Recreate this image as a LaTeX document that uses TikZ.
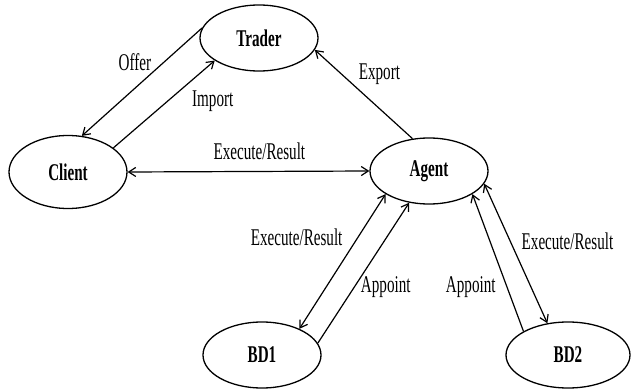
\documentclass[tikz,border=0pt]{standalone}
\usepackage{fontspec}
\setmainfont{Liberation Serif}[FakeStretch=0.63]
\usetikzlibrary{shapes.geometric,arrows.meta,positioning}

\begin{document}
\begin{tikzpicture}[x=1pt, y=-1pt, node distance=191pt, >={Straight Barb[length=7pt,width=9pt]}]
    \tikzstyle{party} = [ellipse, draw, line width=1.3pt, minimum width=118pt, minimum height=66pt, inner sep=0pt, font=\fontsize{24}{28}\selectfont\bfseries]
    \tikzstyle{msg} = [font=\fontsize{24}{28}\selectfont, inner sep=1pt]
    \tikzstyle{link} = [line width=1.2pt]

    \useasboundingbox (0,0) rectangle (631,390);

    % Parties
    \node [party, minimum height=73pt] (client) at (68,172) {Client};
    \node [party, right of=client, yshift=134pt] (trader) {Trader};
    \node [party, right of=client, xshift=170pt, yshift=1pt] (agent) {Agent};
    \node [party, right of=client, xshift=3pt, yshift=-183pt] (bd1) {BD1};
    \node [party, right of=bd1, xshift=115pt, minimum width=124pt] (bd2) {BD2};

    % Trader and client
    \draw [link, ->] (trader.170) -- node [msg, pos=0.41, above left] {Offer} (client.69);
    \draw [link, ->] (client.28) -- node [msg, pos=0.72, below right=6pt] {Import} (trader.207);
    \draw [link, <->] (client.0) -- node [msg, pos=0.545, above=10pt] {Execute/Result} (agent.180);
    \draw [link, ->] (agent.117) -- node [msg, pos=0.58, above right=2pt] {Export} (trader.348);

    % Databases
    \draw [link, <->] (bd1.35) -- node [msg, pos=0.68, left=14pt] {Execute/Result} (agent.208);
    \draw [link, ->] (bd1.12) -- node [msg, pos=0.4, right=5pt] {Appoint} (agent.238);
    \draw [link, ->] (bd2.152) -- node [msg, pos=0.32, left=10pt] {Appoint} (agent.332);
    \draw [link, <->] (agent.347) -- node [msg, pos=0.41, right=10pt] {Execute/Result} (bd2.123);
\end{tikzpicture}
\end{document}
